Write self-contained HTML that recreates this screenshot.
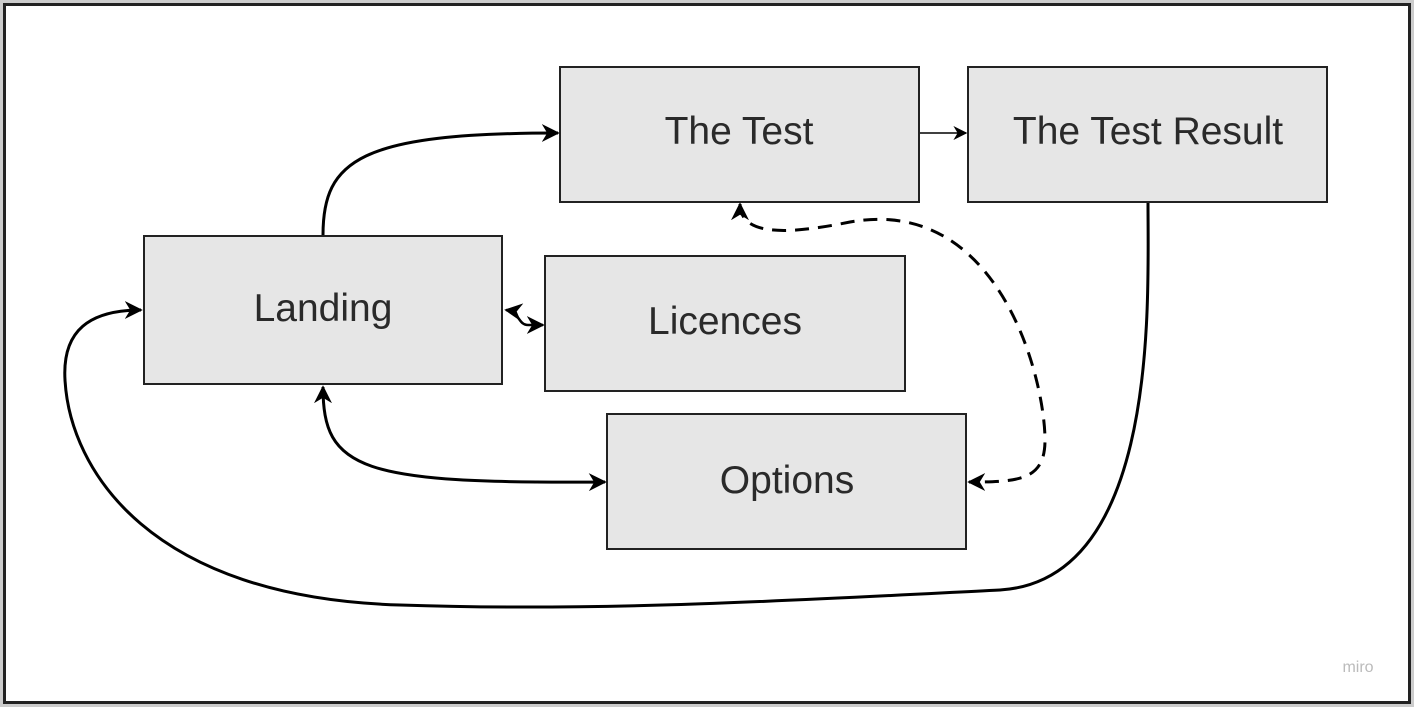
<!DOCTYPE html>
<html><head><meta charset="utf-8"><style>
html,body{margin:0;padding:0;background:#fff;}
body{width:1414px;height:707px;overflow:hidden;}
text{font-family:"Liberation Sans","DejaVu Sans",sans-serif;fill:#2a2a2a;}
</style></head><body>
<svg width="1414" height="707" viewBox="0 0 1414 707" xmlns="http://www.w3.org/2000/svg">
<defs>
<marker id="b" viewBox="0 0 10 10" refX="9" refY="5" markerWidth="18" markerHeight="18" orient="auto-start-reverse" markerUnits="userSpaceOnUse">
<path d="M0,0 L10,5 L0,10 L3,5 Z" fill="#000"/></marker>
<marker id="s" viewBox="0 0 10 10" refX="9" refY="5" markerWidth="14" markerHeight="14" orient="auto-start-reverse" markerUnits="userSpaceOnUse">
<path d="M0,0 L10,5 L0,10 L3,5 Z" fill="#000"/></marker>
</defs>
<rect x="0" y="0" width="1414" height="707" fill="#ccc"/>
<rect x="4.5" y="4.5" width="1405" height="698" fill="#fff" stroke="#222" stroke-width="3"/>
<g fill="#e6e6e6" stroke="#222" stroke-width="2">
<rect x="560" y="67" width="359" height="135"/>
<rect x="968" y="67" width="359" height="135"/>
<rect x="144" y="236" width="358" height="148"/>
<rect x="545" y="256" width="360" height="135"/>
<rect x="607" y="414" width="359" height="135"/>
</g>
<g font-size="39" text-anchor="middle">
<text x="739" y="144">The Test</text>
<text x="1148" y="144">The Test Result</text>
<text x="323" y="321">Landing</text>
<text x="725" y="334">Licences</text>
<text x="787" y="493">Options</text>
</g>
<g fill="none" stroke="#000" stroke-width="3">
<path d="M323,235 C323,160 360,133 558,133" marker-end="url(#b)"/>
<path d="M920,133 L966,133" stroke-width="1.5" marker-end="url(#s)"/>
<path d="M506,310 C520,312 518,325 528,325 L543,325" stroke-width="2.5" marker-start="url(#b)" marker-end="url(#b)"/>
<path d="M323,387 C323,470 360,484 605,482" marker-start="url(#b)" marker-end="url(#b)"/>
<path d="M740,204 C740,240 800,232 850,222 C1000,195 1045,380 1045,440 C1045,480 1020,482 969,482" stroke-dasharray="14,9" marker-start="url(#b)" marker-end="url(#b)"/>
<path d="M1148,203 C1148,300 1160,580 1000,590 C800,600 600,612 400,605 C150,598 70,470 65,380 C62,330 90,310 141,310" marker-end="url(#b)"/>
</g>
<text x="1358" y="672" font-size="16" style="fill:#bbb" text-anchor="middle">miro</text>
</svg>
</body></html>
